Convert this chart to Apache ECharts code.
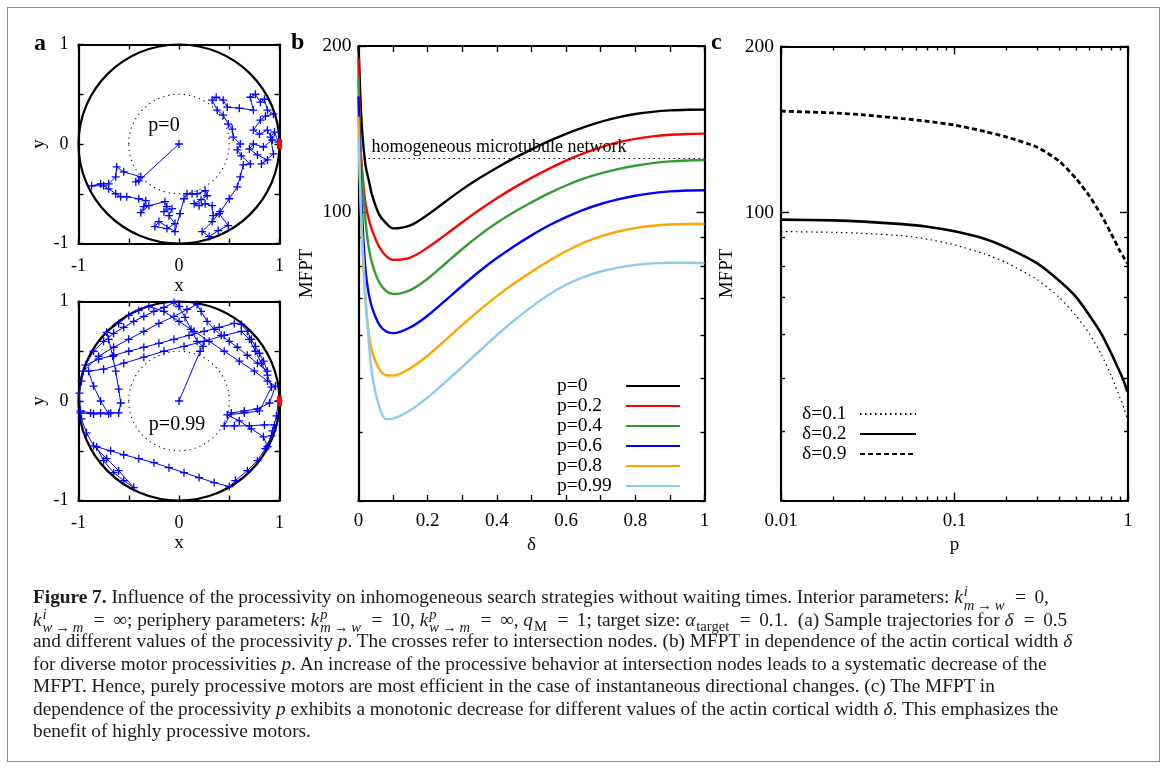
<!DOCTYPE html>
<html>
<head>
<meta charset="utf-8">
<script src="https://cdn.jsdelivr.net/npm/echarts@6/dist/echarts.min.js"></script>
<style>
  html, body { margin: 0; padding: 0; background: #fff; }
  body { width: 1168px; height: 774px; position: relative; overflow: hidden; }
  #frame { position: absolute; left: 7px; top: 7px; width: 1153px; height: 755px; border: 1px solid #8c8c8c; box-sizing: border-box; }
  #chart { position: absolute; left: 0; top: 0; width: 1168px; height: 774px; }
  #caption { position: absolute; left: 33px; top: 585px; font-family: 'Liberation Serif', serif; font-size: 19.3px; color: #1a1a1a; z-index: 2; }
  #caption .ln { height: 22.5px; line-height: 22.5px; white-space: nowrap; }
  .ss { display: inline-block; vertical-align: -0.45em; line-height: 0.95; font-size: 0.76em; margin-left: 1px; text-align: left; }
  .ss > span { display: block; }
  .ar { display: inline-block; margin: 0 0.2em; }
  .eq { display: inline-block; margin: 0 0.44em 0 0.54em; }
  .sb { font-size: 0.76em; vertical-align: -0.32em; line-height: 0; margin-left: 1px; }
</style>
</head>
<body>
<div id="frame"></div>
<div id="chart"></div>
<div id="caption">
  <div class="ln"><b>Figure 7.</b> Influence of the processivity on inhomogeneous search strategies without waiting times. Interior parameters: <i>k</i><span class="ss"><span><i>i</i></span><span><i>m</i><span class="ar">→</span><i>w</i></span></span><span class="eq">=</span>0,</div>
  <div class="ln"><i>k</i><span class="ss"><span><i>i</i></span><span><i>w</i><span class="ar">→</span><i>m</i></span></span><span class="eq">=</span>∞; periphery parameters: <i>k</i><span class="ss"><span><i>p</i></span><span><i>m</i><span class="ar">→</span><i>w</i></span></span><span class="eq">=</span>10, <i>k</i><span class="ss"><span><i>p</i></span><span><i>w</i><span class="ar">→</span><i>m</i></span></span><span class="eq">=</span>∞, <i>q</i><span class="sb">M</span><span class="eq">=</span>1; target size: <i>α</i><span class="sb">target</span><span class="eq">=</span>0.1.&nbsp; (a) Sample trajectories for <i>δ</i><span class="eq">=</span>0.5</div>
  <div class="ln">and different values of the processivity <i>p</i>. The crosses refer to intersection nodes. (b) MFPT in dependence of the actin cortical width <i>δ</i></div>
  <div class="ln">for diverse motor processivities <i>p</i>. An increase of the processive behavior at intersection nodes leads to a systematic decrease of the</div>
  <div class="ln">MFPT. Hence, purely processive motors are most efficient in the case of instantaneous directional changes. (c) The MFPT in</div>
  <div class="ln">dependence of the processivity <i>p</i> exhibits a monotonic decrease for different values of the actin cortical width <i>δ</i>. This emphasizes the</div>
  <div class="ln">benefit of highly processive motors.</div>
</div>
<script>
// ---- panel (a): sample trajectories (x, y) for delta = 0.5 ----
const trajP0 = [
  [0,0],[-0.40,-0.37],[-0.43,-0.38],[-0.38,-0.33],[-0.55,-0.28],[-0.62,-0.23],[-0.63,-0.33],[-0.70,-0.40],
  [-0.78,-0.40],[-0.87,-0.42],[-0.75,-0.42],[-0.70,-0.45],[-0.63,-0.50],[-0.58,-0.53],[-0.52,-0.53],[-0.40,-0.55],
  [-0.33,-0.57],[-0.35,-0.63],[-0.38,-0.69],[-0.30,-0.62],[-0.14,-0.58],[-0.12,-0.63],[-0.15,-0.68],[-0.07,-0.65],
  [-0.10,-0.72],[-0.04,-0.80],[-0.12,-0.85],[-0.24,-0.83],[-0.20,-0.78],[-0.04,-0.88],[0.01,-0.70],[0.05,-0.55],
  [0.08,-0.50],[0.13,-0.50],[0.18,-0.50],[0.26,-0.47],[0.28,-0.52],[0.22,-0.56],[0.15,-0.60],[0.20,-0.62],
  [0.26,-0.60],[0.33,-0.62],[0.34,-0.72],[0.40,-0.70],[0.49,-0.82],[0.39,-0.87],[0.30,-0.93],[0.23,-0.88],
  [0.33,-0.78],[0.41,-0.68],[0.50,-0.55],[0.58,-0.43],[0.61,-0.33],[0.64,-0.21],[0.71,-0.20],[0.62,-0.12],
  [0.58,-0.06],[0.61,0.00],[0.54,0.07],[0.53,0.15],[0.49,0.20],[0.44,0.29],[0.38,0.34],[0.33,0.44],
  [0.37,0.47],[0.44,0.44],[0.48,0.37],[0.60,0.36],[0.74,0.34],[0.71,0.47],[0.76,0.50],[0.81,0.42],
  [0.85,0.45],[0.88,0.34],[0.94,0.30],[0.86,0.28],[0.81,0.24],[0.74,0.14],[0.80,0.10],[0.88,0.14],
  [0.93,0.04],[0.84,-0.03],[0.74,0.00],[0.70,-0.05],[0.78,-0.11],[0.88,-0.16],[0.82,-0.20],[0.94,-0.10],
  [0.91,0.07],[0.95,0.12],[0.99,0.02]
];
const trajP99 = [
  [0,0],[0.21,0.5],[0.24,0.55],[0.18,0.6],[0.12,0.72],[0.06,0.84],[0.0,0.95],[-0.05,0.99],
  [-0.15,0.94],[-0.25,0.9],[-0.35,0.85],[-0.45,0.8],[-0.55,0.74],[-0.65,0.68],[-0.75,0.6],[-0.85,0.5],[-0.93,0.36],
  [-0.8,0.42],[-0.65,0.46],[-0.5,0.5],[-0.35,0.54],[-0.2,0.58],[-0.05,0.62],[0.1,0.66],[0.25,0.7],[0.4,0.74],[0.55,0.78],[0.62,0.77],
  [0.68,0.7],[0.72,0.62],[0.76,0.55],[0.8,0.48],[0.84,0.4],[0.88,0.3],
  [0.78,0.38],[0.68,0.46],[0.58,0.54],[0.5,0.6],[0.42,0.66],[0.35,0.72],[0.28,0.8],[0.22,0.9],[0.18,0.97],
  [0.08,0.92],[-0.05,0.85],[-0.2,0.78],[-0.35,0.7],[-0.5,0.62],[-0.65,0.54],[-0.8,0.45],[-0.95,0.3],
  [-0.97,0.2],[-0.99,0.08],[-0.98,-0.1],
  [-0.88,-0.12],[-0.78,-0.12],[-0.68,-0.12],[-0.6,-0.12],
  [-0.58,-0.02],[-0.6,0.12],[-0.63,0.3],[-0.66,0.45],[-0.7,0.62],[-0.72,0.69],
  [-0.6,0.78],[-0.5,0.86],[-0.4,0.91],[-0.3,0.95],
  [-0.15,0.9],[0.0,0.8],[0.15,0.7],[0.3,0.6],[0.45,0.5],[0.6,0.4],[0.75,0.3],[0.88,0.2],[0.96,0.15],
  [0.9,-0.02],[0.78,-0.08],[0.65,-0.1],[0.52,-0.12],
  [0.45,-0.25],[0.55,-0.25],[0.7,-0.25],[0.85,-0.24],[0.95,-0.24],
  [0.92,-0.35],[0.86,-0.48],[0.78,-0.6],[0.68,-0.7],[0.56,-0.8],[0.5,-0.86],
  [0.35,-0.82],[0.2,-0.77],[0.05,-0.72],[-0.1,-0.67],[-0.25,-0.62],[-0.4,-0.58],[-0.55,-0.54],[-0.68,-0.5],[-0.82,-0.46],
  [-0.75,-0.6],[-0.65,-0.72],[-0.55,-0.8],[-0.45,-0.87],
  [-0.6,-0.7],[-0.72,-0.58],[-0.85,-0.45],[-0.92,-0.32],[-0.97,-0.18],[-0.98,-0.12],
  [-0.85,-0.13],[-0.7,-0.13],
  [-0.78,0.0],[-0.85,0.15],[-0.9,0.3],
  [-0.75,0.32],[-0.55,0.38],[-0.35,0.44],[-0.15,0.5],[0.05,0.55],[0.25,0.6],[0.45,0.66],[0.62,0.7],
  [0.7,0.62],[0.76,0.5],[0.82,0.38],[0.88,0.26],[0.92,0.14],
  [0.8,-0.1],[0.65,-0.12],[0.48,-0.14],
  [0.6,-0.2],[0.72,-0.28],[0.84,-0.36],[0.88,-0.46],
  [0.93,-0.3],[0.97,-0.15],[0.99,0.0]
];
const ringRadii = [1, 0.5];                              // cell boundary, inner edge of the actin cortex
const targetArc = [[0.9988, 0.05], [1, 0], [0.9988, -0.05]]; // target on the boundary
const trajLabels = ['p=0', 'p=0.99'];

// ---- panel (b): MFPT versus cortical width delta ----
const deltaGrid = [0, 0.005, 0.01, 0.02, 0.03, 0.04, 0.06, 0.08, 0.1, 0.15, 0.2, 0.25, 0.3, 0.35, 0.4,
                   0.45, 0.5, 0.55, 0.6, 0.65, 0.7, 0.75, 0.8, 0.85, 0.9, 0.95, 1.0];
const mfptP0   = [200, 165, 142, 122, 114, 107, 99, 95.5, 93.5, 94.7, 99.0, 104.4, 110, 115.3, 120.4,
                  125.3, 130, 134.5, 138.7, 142.5, 145.8, 148.5, 150.6, 152, 152.9, 153.3, 153.4];
const mfptP02  = [190, 135, 120, 104, 97, 92.5, 86.5, 83.3, 82, 82.8, 86.3, 90.9, 95.9, 101, 106,
                  110.8, 115.4, 119.8, 124, 127.8, 131.1, 133.8, 135.8, 137.2, 138.1, 138.6, 138.8];
const mfptP04  = [176, 130, 117, 97, 86, 80.5, 74.6, 72, 71.1, 72.3, 75.8, 80.6, 85.8, 90.9, 95.7,
                  100.1, 104.2, 108.2, 111.8, 115, 117.6, 119.7, 121.4, 122.7, 123.6, 124.1, 124.3];
const mfptP06  = [162, 120, 100, 79, 71, 67, 62.6, 60.8, 60.4, 61.9, 65, 69.1, 73.6, 78.2, 82.6,
                  86.8, 90.8, 94.6, 98, 101, 103.5, 105.5, 107.1, 108.3, 109.1, 109.5, 109.6];
const mfptP08  = [149, 110, 90, 69, 60, 55.8, 52, 50.7, 50.6, 52.2, 55, 58.6, 62.5, 66.5, 70.5,
                  74.3, 78, 81.6, 85, 88, 90.4, 92.3, 93.6, 94.5, 95, 95.2, 95.2];
const mfptP099 = [136, 110, 92, 71, 58, 50.5, 44.5, 42.2, 42.3, 43.8, 46.2, 49.2, 52.5, 56.1, 59.9,
                  63.7, 67.4, 70.9, 73.9, 76.3, 78.1, 79.4, 80.3, 80.8, 81, 81, 80.9];
const pNames  = ['p=0', 'p=0.2', 'p=0.4', 'p=0.6', 'p=0.8', 'p=0.99'];
const pColors = ['#000000', '#ff0000', '#2e9e2e', '#0000ff', '#ffa500', '#87ceeb'];
const homogeneousMfpt = 125.5;
const deltaLabels = [0, 0.2, 0.4, 0.6, 0.8, 1];

// ---- panel (c): MFPT versus processivity p ----
const pGrid = [0.01, 0.02, 0.03, 0.05, 0.07, 0.1, 0.15, 0.2, 0.3, 0.4, 0.5, 0.6, 0.7, 0.8, 0.9, 0.95, 0.99];
const mfptD01 = [92.3, 92, 91.6, 90.7, 89.4, 87.3, 84, 81, 75.5, 70.2, 65, 60.2, 55.3, 50.6, 46, 44, 42.2];
const mfptD02 = [97, 96.7, 96.2, 95.2, 94.2, 92.4, 89.5, 86.3, 80.8, 75.2, 70.3, 65, 60.3, 55.5, 51.2, 49.2, 47.3];
const mfptD09 = [152.7, 151.5, 150.3, 148, 146.3, 144, 140.2, 137, 131.3, 124, 115.3, 107, 99, 91.5, 85, 82.6, 80.8];
const dNames = ['δ=0.1', 'δ=0.2', 'δ=0.9'];

// ---- tick values ----
const mfptMajorTicks = [100, 200];
const mfptMinorTicks = [30, 40, 50, 60, 70, 80, 90];
const pMajorTicks = [0.01, 0.1, 1];
const pMinorTicks = [0.02, 0.03, 0.04, 0.05, 0.06, 0.07, 0.08, 0.09, 0.2, 0.3, 0.4, 0.5, 0.6, 0.7, 0.8, 0.9];

const FONT = 'Liberation Serif';
const txt = (size) => ({ fontFamily: FONT, fontSize: size, color: '#000' });

function axis(gridIndex, position, o) {
  return Object.assign({
    gridIndex: gridIndex,
    position: position,
    axisLine: { show: true, onZero: false, lineStyle: { color: '#000', width: 2.2 } },
    axisTick: { show: true, inside: true, length: 5, lineStyle: { color: '#000', width: 1.4 } },
    axisLabel: { show: false },
    splitLine: { show: false },
    nameTextStyle: txt(19)
  }, o);
}
function tickOnly(a, values, len) {
  a.axisLine = { show: false, onZero: false };
  a.axisTick = { show: true, inside: true, length: len, customValues: values, lineStyle: { color: '#000', width: 1.4 } };
  return a;
}

const xAxes = [];
const yAxes = [];

// panel (a) axes, grids 0 and 1
const aFmt = v => (Math.abs(v) === 0.5 ? '' : String(v));
[0, 1].forEach(g => {
  const lin = { type: 'value', min: -1, max: 1, interval: 0.5 };
  xAxes.push(axis(g, 'bottom', Object.assign({}, lin, {
    axisLabel: Object.assign({ show: true, margin: 14, formatter: aFmt }, txt(18)),
    name: 'x', nameLocation: 'middle', nameGap: 18
  })));
  xAxes.push(axis(g, 'top', Object.assign({}, lin)));
  yAxes.push(axis(g, 'left', Object.assign({}, lin, {
    axisLabel: Object.assign({ show: true, margin: 10, formatter: aFmt }, txt(18)),
    name: 'y', nameLocation: 'middle', nameGap: 30
  })));
  yAxes.push(axis(g, 'right', Object.assign({}, lin)));
});

// panel (b) axes, grid 2
const dLin = { type: 'value', min: 0, max: 1, interval: 0.1 };
xAxes.push(axis(2, 'bottom', Object.assign({}, dLin, {
  axisTick: { show: true, inside: true, length: 6, lineStyle: { color: '#000', width: 1.4 } },
  axisLabel: Object.assign({ show: true, margin: 11,
    formatter: v => (deltaLabels.some(t => Math.abs(t - v) < 1e-6) ? String(+v.toFixed(1)) : '') }, txt(19)),
  name: 'δ', nameLocation: 'middle', nameGap: 35
})));
xAxes.push(axis(2, 'top', Object.assign({}, dLin, {
  axisTick: { show: true, inside: true, length: 6, lineStyle: { color: '#000', width: 1.4 } }
})));
const mLog = { type: 'log', logBase: 10, min: 30, max: 200 };
yAxes.push(axis(2, 'left', Object.assign({}, mLog, {
  axisTick: { show: true, inside: true, length: 8, customValues: mfptMajorTicks, lineStyle: { color: '#000', width: 1.4 } },
  axisLabel: Object.assign({ show: true, margin: 7, customValues: mfptMajorTicks }, txt(19.5)),
  name: 'MFPT', nameLocation: 'middle', nameGap: 42
})));
yAxes.push(tickOnly(axis(2, 'left', Object.assign({}, mLog)), mfptMinorTicks, 4));
yAxes.push(axis(2, 'right', Object.assign({}, mLog, {
  axisTick: { show: true, inside: true, length: 8, customValues: mfptMajorTicks, lineStyle: { color: '#000', width: 1.4 } }
})));
yAxes.push(tickOnly(axis(2, 'right', Object.assign({}, mLog)), mfptMinorTicks, 4));

// panel (c) axes, grid 3
const pLog = { type: 'log', logBase: 10, min: 0.01, max: 1 };
xAxes.push(axis(3, 'bottom', Object.assign({}, pLog, {
  axisTick: { show: true, inside: true, length: 8, customValues: pMajorTicks, lineStyle: { color: '#000', width: 1.4 } },
  axisLabel: Object.assign({ show: true, margin: 11, customValues: pMajorTicks }, txt(19)),
  name: 'p', nameLocation: 'middle', nameGap: 33
})));
xAxes.push(tickOnly(axis(3, 'bottom', Object.assign({}, pLog)), pMinorTicks, 4));
xAxes.push(axis(3, 'top', Object.assign({}, pLog, {
  axisTick: { show: true, inside: true, length: 8, customValues: pMajorTicks, lineStyle: { color: '#000', width: 1.4 } }
})));
xAxes.push(tickOnly(axis(3, 'top', Object.assign({}, pLog)), pMinorTicks, 4));
yAxes.push(axis(3, 'left', Object.assign({}, mLog, {
  axisTick: { show: true, inside: true, length: 8, customValues: mfptMajorTicks, lineStyle: { color: '#000', width: 1.4 } },
  axisLabel: Object.assign({ show: true, margin: 7, customValues: mfptMajorTicks }, txt(19.5)),
  name: 'MFPT', nameLocation: 'middle', nameGap: 44
})));
yAxes.push(tickOnly(axis(3, 'left', Object.assign({}, mLog)), mfptMinorTicks, 4));
yAxes.push(axis(3, 'right', Object.assign({}, mLog, {
  axisTick: { show: true, inside: true, length: 8, customValues: mfptMajorTicks, lineStyle: { color: '#000', width: 1.4 } }
})));
yAxes.push(tickOnly(axis(3, 'right', Object.assign({}, mLog)), mfptMinorTicks, 4));

// axis indices of the series-carrying axes
const AX = { aTop: [0, 0], aBot: [2, 2], b: [4, 4], c: [6, 8] };

const series = [];

// panel (a): rings, trajectories, target
function trajectorySeries(idx, pts) {
  series.push({
    type: 'custom', xAxisIndex: idx[0], yAxisIndex: idx[1], silent: true, clip: false, z: 1,
    data: ringRadii.map(r => [0, 0, r]),
    renderItem: (params, api) => {
      const c = api.coord([api.value(0), api.value(1)]);
      const s = api.size([api.value(2), api.value(2)]);
      const outer = params.dataIndex === 0;
      return {
        type: 'ellipse',
        shape: { cx: c[0], cy: c[1], rx: s[0], ry: s[1] },
        style: { fill: 'none', stroke: '#000', lineWidth: outer ? 2.2 : 1.1, lineDash: outer ? null : [1.2, 4] }
      };
    }
  });
  series.push({
    type: 'line', xAxisIndex: idx[0], yAxisIndex: idx[1], z: 3, data: pts,
    symbol: 'path://M0,5L10,5M5,0L5,10', symbolSize: 8, showSymbol: true,
    itemStyle: { color: '#0000ff', borderColor: '#0000ff', borderWidth: 1.3 },
    lineStyle: { color: '#0000ff', width: 1 }
  });
  series.push({
    type: 'line', xAxisIndex: idx[0], yAxisIndex: idx[1], z: 4, data: targetArc, symbol: 'none', clip: false,
    lineStyle: { color: '#ff0000', width: 5 }
  });
}
trajectorySeries(AX.aTop, trajP0);
trajectorySeries(AX.aBot, trajP99);

// panel (b)
[mfptP0, mfptP02, mfptP04, mfptP06, mfptP08, mfptP099].forEach((vals, i) => {
  const s = {
    type: 'line', name: pNames[i], xAxisIndex: AX.b[0], yAxisIndex: AX.b[1], z: 3 + i,
    data: deltaGrid.map((d, k) => [d, vals[k]]),
    symbol: 'none', smooth: 0.35,
    color: pColors[i],
    lineStyle: { color: pColors[i], width: 2.4 }
  };
  if (i === 0) {
    s.markLine = {
      silent: true, symbol: ['none', 'none'], animation: false,
      data: [{ yAxis: homogeneousMfpt }],
      lineStyle: { color: '#000', type: [1.5, 3.5], width: 1.2 },
      label: Object.assign({ show: true, position: 'insideStartTop', distance: [13, 2],
        formatter: 'homogeneous microtubule network' }, txt(18))
    };
  }
  series.push(s);
});

// panel (c)
const cStyles = [
  { width: 1.2, type: [1.5, 3.5] },
  { width: 2.6, type: 'solid' },
  { width: 2.8, type: [5, 3] }
];
[mfptD01, mfptD02, mfptD09].forEach((vals, i) => {
  series.push({
    type: 'line', name: dNames[i], xAxisIndex: AX.c[0], yAxisIndex: AX.c[1], z: 3,
    data: pGrid.map((p, k) => [p, vals[k]]),
    symbol: 'none', smooth: 0.2, color: '#000',
    lineStyle: Object.assign({ color: '#000' }, cStyles[i])
  });
});

const legendText = (w) => ({
  rich: { t: Object.assign({ width: w, align: 'left', lineHeight: 18, height: 18 }, txt(19.5)) }
});
const legendBase = {
  orient: 'vertical', align: 'right', padding: 0, itemHeight: 18, itemGap: 0, selectedMode: false,
  itemStyle: { opacity: 0, borderWidth: 0 },
  formatter: n => '{t|' + n + '}'
};

const option = {
  animation: false,
  backgroundColor: 'transparent',
  grid: [
    { left: 78.5, top: 44.5, width: 201, height: 199 },
    { left: 78.5, top: 301.5, width: 201, height: 199 },
    { left: 358.5, top: 46, width: 346, height: 455 },
    { left: 781, top: 46.5, width: 347, height: 454 }
  ],
  xAxis: xAxes,
  yAxis: yAxes,
  legend: [
    Object.assign({}, legendBase, { data: pNames, left: 557, top: 376, itemWidth: 54, textStyle: legendText(64) }),
    Object.assign({}, legendBase, { data: dNames, left: 802, top: 404, itemWidth: 56, textStyle: legendText(53) })
  ],
  graphic: [
    { type: 'text', left: 34, top: 32, style: { text: 'a', font: 'bold 24px "Liberation Serif"', fill: '#000' } },
    { type: 'text', left: 291, top: 31, style: { text: 'b', font: 'bold 24px "Liberation Serif"', fill: '#000' } },
    { type: 'text', left: 711, top: 31, style: { text: 'c', font: 'bold 24px "Liberation Serif"', fill: '#000' } },
    { type: 'text', x: 164, y: 126, style: { text: trajLabels[0], font: '20px "Liberation Serif"', fill: '#000', align: 'center', verticalAlign: 'middle' } },
    { type: 'text', x: 177, y: 425, style: { text: trajLabels[1], font: '20px "Liberation Serif"', fill: '#000', align: 'center', verticalAlign: 'middle' } }
  ],
  series: series
};

const chart = echarts.init(document.getElementById('chart'), null, { renderer: 'canvas' });
chart.setOption(option);
</script>
</body>
</html>
